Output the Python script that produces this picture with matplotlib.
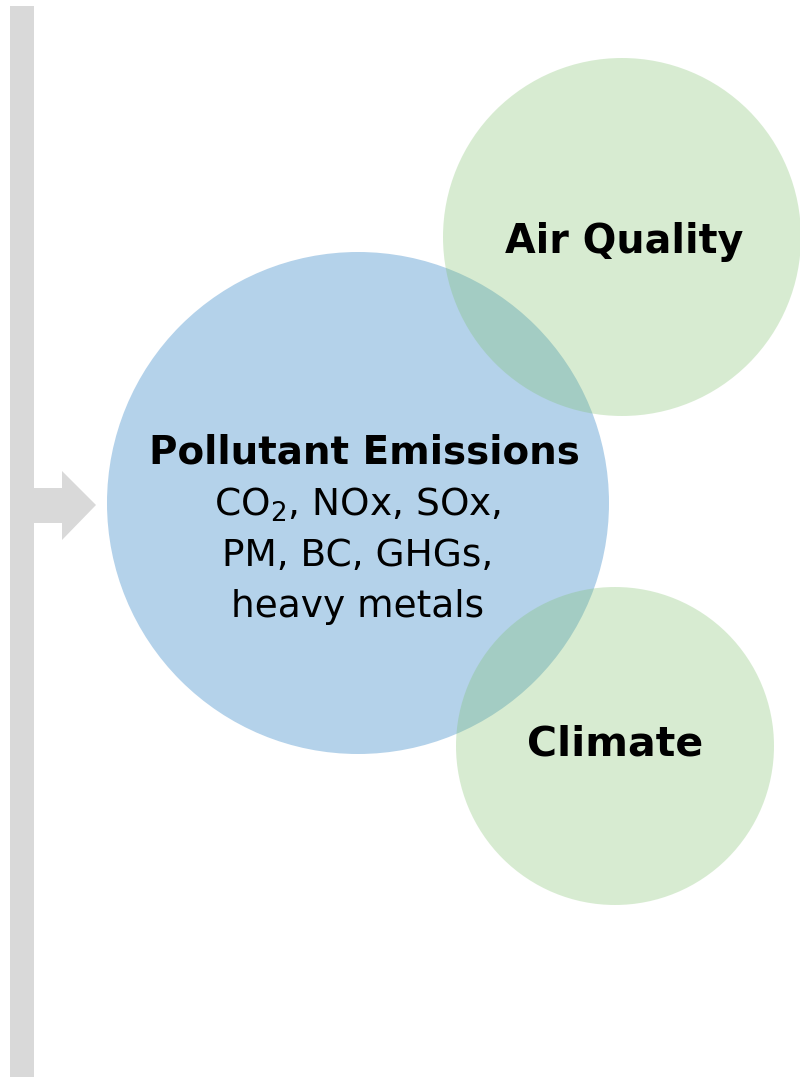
import matplotlib.pyplot as plt
from matplotlib.patches import Circle, Rectangle, Polygon

plt.rcParams['font.family'] = ['DejaVu Sans']
plt.rcParams['mathtext.fontset'] = 'dejavusans'

# circles of the diagram (pixel coords, y down)
circle_names = ["Pollutant Emissions", "Air Quality", "Climate"]
circle_x = [358, 622, 615]
circle_y = [503, 237, 746]
circle_r = [251, 179, 159]
circle_colors = ["#B4D2EA", "#7DC069", "#7DC069"]
circle_alpha = [1.0, 0.3, 0.3]

sub_lines = ["CO$_2$, NOx, SOx,", "PM, BC, GHGs,", "heavy metals"]

fig = plt.figure(figsize=(8, 10.77), dpi=100)
ax = fig.add_axes([0, 0, 1, 1])
ax.set_xlim(0, 800)
ax.set_ylim(1077, 0)
ax.set_aspect("equal")
ax.axis("off")

# gray bar on the left + arrow
ax.add_patch(Rectangle((10, 6), 24, 1071, color="#D9D9D9", lw=0))
arrow = [(33, 488), (62, 488), (62, 471), (96, 505), (62, 540), (62, 523), (33, 523)]
ax.add_patch(Polygon(arrow, closed=True, color="#D9D9D9", lw=0))

for i in range(len(circle_names)):
    ax.add_patch(Circle((circle_x[i], circle_y[i]), circle_r[i],
                        facecolor=circle_colors[i], alpha=circle_alpha[i], lw=0))

# labels (baseline positions)
ax.text(364, 464, circle_names[0], ha="center", va="baseline",
        fontsize=28, fontweight="bold")
for k, line in enumerate(sub_lines):
    ax.text(358, 516 + k * 50.5, line, ha="center", va="baseline", fontsize=27)

ax.text(624, 253, circle_names[1], ha="center", va="baseline",
        fontsize=28.5, fontweight="bold")
ax.text(615, 755, circle_names[2], ha="center", va="baseline",
        fontsize=29.5, fontweight="bold")

fig.savefig("out.png", dpi=100)
